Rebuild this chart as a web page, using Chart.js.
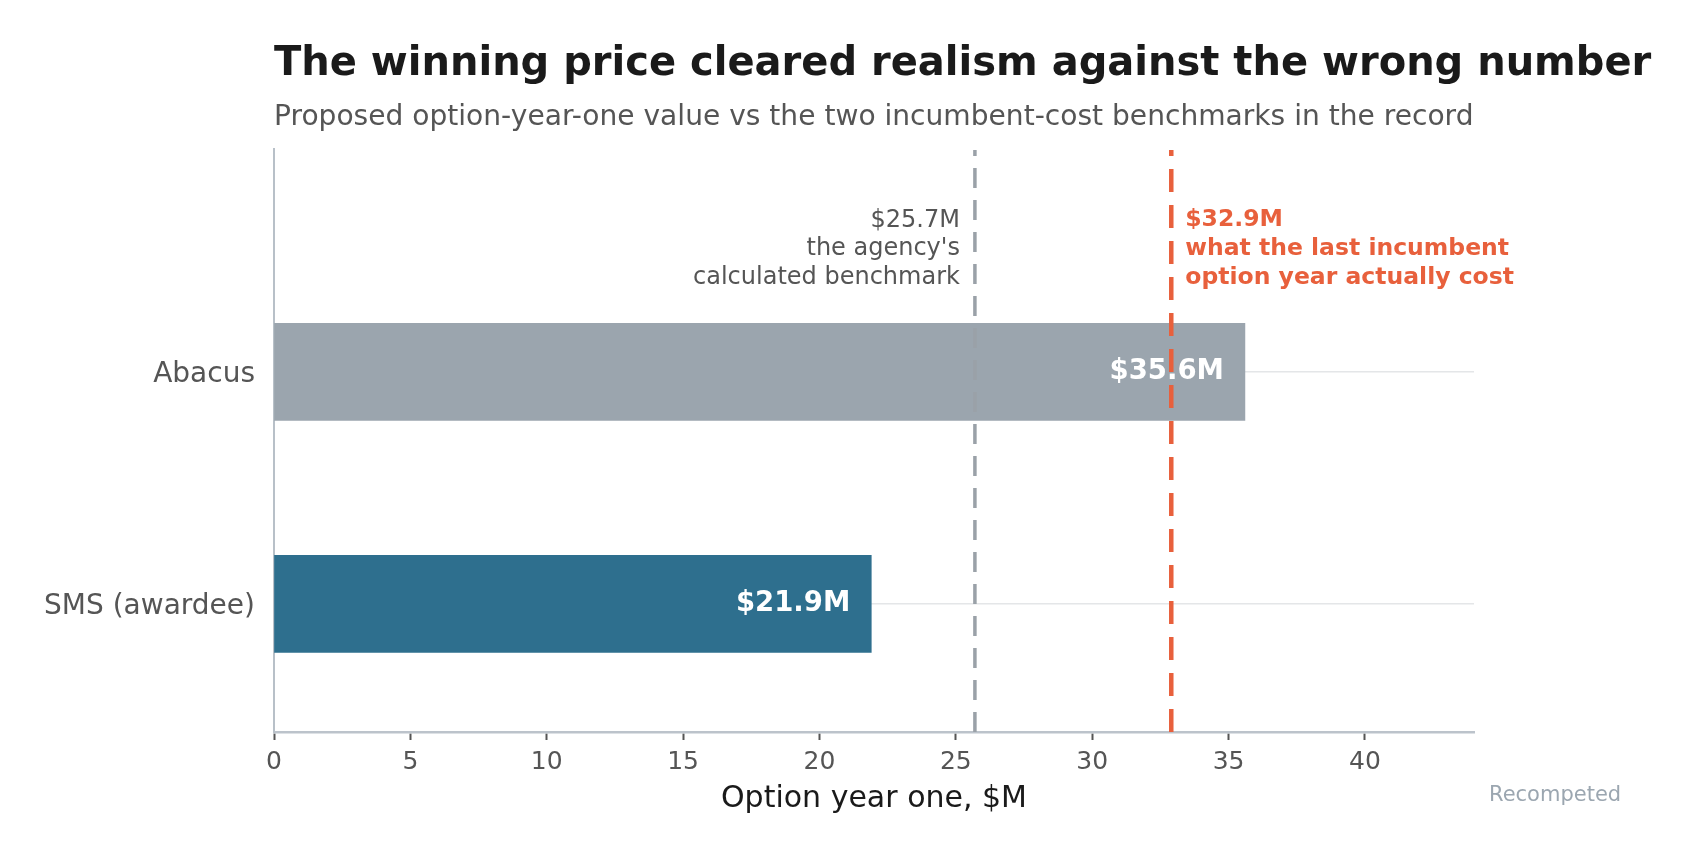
<!DOCTYPE html>
<html>
<head>
<meta charset="utf-8">
<script src="https://cdn.jsdelivr.net/npm/chart.js@4.4.1/dist/chart.umd.min.js"></script>
<style>
  html, body { margin: 0; background: #fff; }
  #wrap { width: 1698px; height: 861px; position: relative; }
</style>
</head>
<body>
<div id="wrap"><canvas id="chart"></canvas></div>
<script>
// ── data (bottom row first) ────────────────────────────────
const bidders = ['SMS (awardee)', 'Abacus'];
const optionYearOne = [21.9, 35.6];            // $M
const xTicks = [0, 5, 10, 15, 20, 25, 30, 35, 40];
const benchmarkValues = [25.7, 32.9];          // $M
const benchmarkNotes = [
  ['$25.7M', "the agency's", 'calculated benchmark'],
  ['$32.9M', 'what the last incumbent', 'option year actually cost']
];

const FONT = '"DejaVu Sans", "Noto Sans", sans-serif';
const barColors = ['#2e6f8e', '#9ba5ae'];
const lineStyles = [
  { color: '#9aa1a8', width: 3.5, dash: [20, 12], text: '#555555', weight: 'normal', size: 24, side: 'left' },
  { color: '#e8603c', width: 4.5, dash: [23, 13], text: '#e8603c', weight: 'bold', size: 23.5, side: 'right' }
];

// ── overlay: benchmark lines, notes, bar labels, titles ─────
const overlay = {
  id: 'overlay',
  afterDatasetsDraw(chart) {
    const { ctx, chartArea: a, scales: { x, y } } = chart;

    benchmarkValues.forEach((v, i) => {
      const st = lineStyles[i];
      const px = x.getPixelForValue(v);
      ctx.save();
      ctx.strokeStyle = st.color;
      ctx.lineWidth = st.width;
      ctx.setLineDash(st.dash);
      ctx.beginPath();
      ctx.moveTo(px, a.bottom);
      ctx.lineTo(px, a.top + 1);
      ctx.stroke();
      ctx.restore();

      // note, three lines centred on y = 1.53
      const midY = y.getPixelForValue(1.53);
      ctx.save();
      ctx.font = `${st.weight} ${st.size}px ${FONT}`;
      ctx.fillStyle = st.text;
      ctx.textBaseline = 'middle';
      ctx.textAlign = st.side === 'left' ? 'right' : 'left';
      const tx = st.side === 'left' ? px - 15 : px + 14;
      benchmarkNotes[i].forEach((line, k) => {
        ctx.fillText(line, tx, midY + (k - 1) * 28.7);
      });
      ctx.restore();
    });

    // value labels inside bars
    const meta = chart.getDatasetMeta(0);
    ctx.save();
    ctx.font = `bold 27.5px ${FONT}`;
    ctx.fillStyle = '#ffffff';
    ctx.textAlign = 'right';
    ctx.textBaseline = 'middle';
    meta.data.forEach((bar, i) => {
      ctx.fillText('$' + optionYearOne[i].toFixed(1) + 'M', bar.x - 21, bar.y);
    });
    ctx.restore();
  },
  afterDraw(chart) {
    const { ctx } = chart;
    ctx.save();
    ctx.textAlign = 'left';
    ctx.textBaseline = 'alphabetic';
    ctx.fillStyle = '#1a1a1a';
    ctx.font = `bold 40px ${FONT}`;
    ctx.fillText('The winning price cleared realism against the wrong number', 274, 75);
    ctx.fillStyle = '#555555';
    ctx.font = `28.1px ${FONT}`;
    ctx.fillText('Proposed option-year-one value vs the two incumbent-cost benchmarks in the record', 274, 124.5);
    ctx.fillStyle = '#9ba6b0';
    ctx.font = `21px ${FONT}`;
    ctx.textBaseline = 'middle';
    ctx.fillText('Recompeted', 1489, 796);
    ctx.restore();
  }
};

new Chart(document.getElementById('chart'), {
  type: 'bar',
  data: {
    datasets: [{
      data: optionYearOne.map((v, i) => ({ x: v, y: i })),
      backgroundColor: barColors,
      borderWidth: 0,
      barThickness: 97
    }]
  },
  options: {
    indexAxis: 'y',
    responsive: true,
    maintainAspectRatio: false,
    animation: false,
    layout: { padding: { top: 149, right: 224, left: 0, bottom: 0 } },
    plugins: { legend: { display: false }, tooltip: { enabled: false } },
    scales: {
      x: {
        type: 'linear',
        min: 0,
        max: 44,
        afterBuildTicks: s => { s.ticks = xTicks.map(v => ({ value: v })); },
        ticks: { font: { family: FONT, size: 25 }, color: '#555555', padding: 7 },
        grid: { drawOnChartArea: false, drawTicks: true, tickLength: 8, tickColor: '#555555', tickWidth: 2 },
        border: { display: true, color: '#bcc3cb', width: 2.5 },
        title: {
          display: true,
          text: 'Option year one, $M',
          font: { family: FONT, size: 30 },
          color: '#1a1a1a',
          padding: { top: 0, bottom: 44 }
        },
        afterFit: s => { s.height = 129; }
      },
      y: {
        type: 'linear',
        min: -0.552,
        max: 1.961,
        offset: false,
        afterBuildTicks: s => { s.ticks = bidders.map((_, i) => ({ value: i })); },
        ticks: {
          callback: v => bidders[v],
          font: { family: FONT, size: 28 },
          color: '#555555',
          padding: 19,
          labelOffset: 3
        },
        grid: { color: '#e4e6e8', lineWidth: 1.5, drawTicks: false, offset: false },
        border: { display: true, color: '#b8c0c8', width: 2 },
        afterFit: s => { s.width = 274; }
      }
    }
  },
  plugins: [overlay]
});
</script>
</body>
</html>
